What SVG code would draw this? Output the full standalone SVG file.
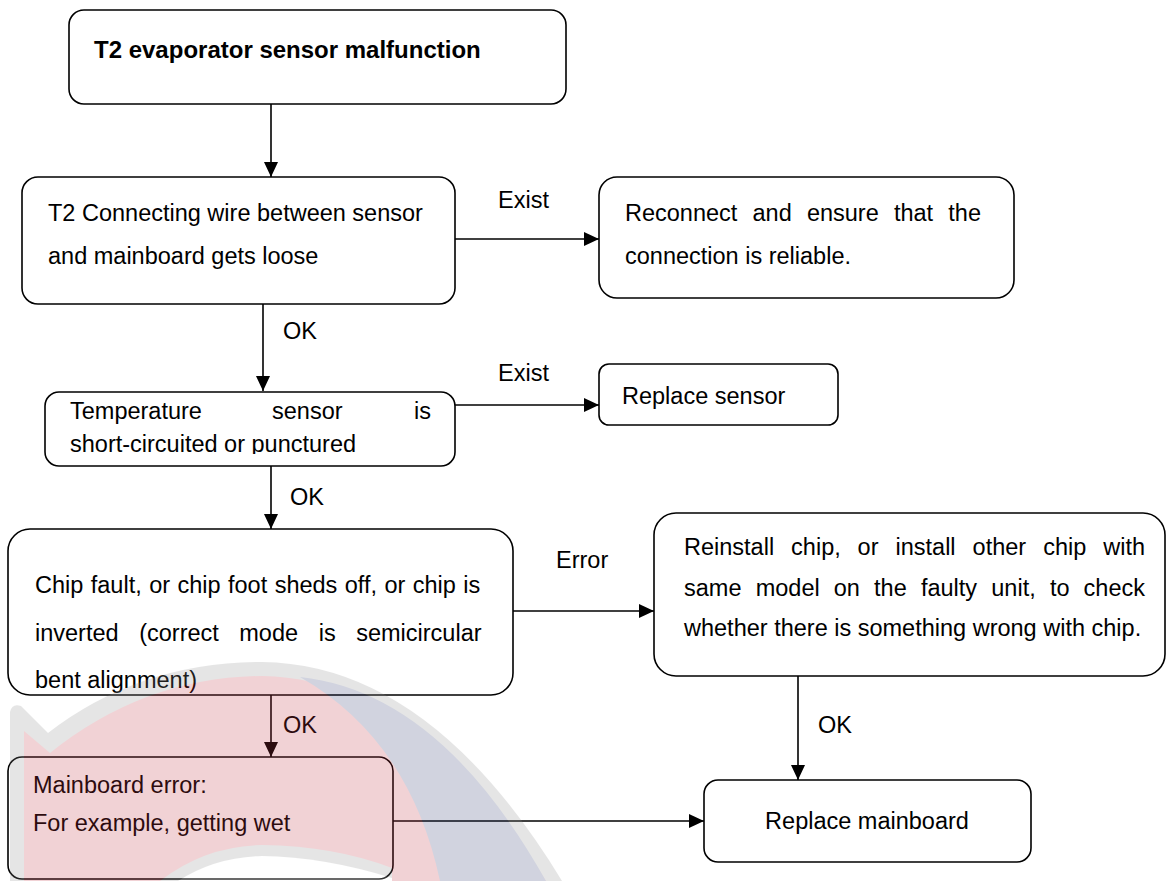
<svg xmlns="http://www.w3.org/2000/svg" width="1167" height="881" viewBox="0 0 1167 881">
<style>
.box{fill:#fff;stroke:#000;stroke-width:1.6}
.t{font-family:"Liberation Sans",Arial,sans-serif;font-size:23.5px;fill:#000}
.tb{font-family:"Liberation Sans",Arial,sans-serif;font-size:24px;font-weight:bold;fill:#000}
.c{fill:none;stroke:#000;stroke-width:1.6;marker-end:url(#ah)}
</style>
<defs>
<marker id="ah" markerUnits="userSpaceOnUse" markerWidth="15" markerHeight="14" refX="15" refY="7" orient="auto">
<path d="M0,0 L15,7 L0,14 Z" fill="#000"/>
</marker>
<clipPath id="clip4"><rect x="45" y="392" width="410" height="62"/></clipPath>
</defs>
<rect width="1167" height="881" fill="#fff"/>

<g id="connectors">
<line class="c" x1="271" y1="104" x2="271" y2="177"/>
<line class="c" x1="455" y1="239" x2="599" y2="239"/>
<line class="c" x1="263" y1="304" x2="263" y2="391"/>
<line class="c" x1="455" y1="405" x2="599" y2="405"/>
<line class="c" x1="271" y1="466" x2="271" y2="529"/>
<line class="c" x1="513" y1="611" x2="654" y2="611"/>
<line class="c" x1="798" y1="676" x2="798" y2="780"/>
<line class="c" x1="271" y1="695" x2="271" y2="757"/>
<line class="c" x1="393" y1="821" x2="704" y2="821"/>
<text class="t" x="498" y="208">Exist</text>
<text class="t" x="283" y="339">OK</text>
<text class="t" x="498" y="381">Exist</text>
<text class="t" x="290" y="505">OK</text>
<text class="t" x="556" y="568">Error</text>
<text class="t" x="818" y="733">OK</text>
<text class="t" x="283" y="733">OK</text>
</g>

<g id="n1">
<rect class="box" x="69" y="10" width="497" height="94" rx="15"/>
<text class="tb" x="94" y="58">T2 evaporator sensor malfunction</text>
</g>

<g id="n2">
<rect class="box" x="22" y="177" width="433" height="127" rx="16"/>
<text class="t" x="48" y="221">T2 Connecting wire between sensor</text>
<text class="t" x="48" y="264">and mainboard gets loose</text>
</g>

<g id="n3">
<rect class="box" x="599" y="177" width="415" height="121" rx="18"/>
<text class="t" y="221"><tspan x="625">Reconnect</tspan><tspan x="752.5">and</tspan><tspan x="806.9">ensure</tspan><tspan x="893.9">that</tspan><tspan x="948.3">the</tspan></text>
<text class="t" x="625" y="264">connection is reliable.</text>
</g>

<g id="n4">
<rect class="box" x="45" y="392" width="410" height="74" rx="14"/>
<text class="t" y="419"><tspan x="70">Temperature</tspan><tspan x="272">sensor</tspan><tspan x="414">is</tspan></text>
<text class="t" x="70" y="452" clip-path="url(#clip4)">short-circuited or punctured</text>
</g>

<g id="n5">
<rect class="box" x="599" y="364" width="239" height="61" rx="10"/>
<text class="t" x="622" y="404">Replace sensor</text>
</g>

<g id="n6">
<rect class="box" x="8" y="529" width="505" height="166" rx="22"/>
<text class="t" x="35" y="593" word-spacing="0.9">Chip fault, or chip foot sheds off, or chip is</text>
<text class="t" y="641"><tspan x="35">inverted</tspan><tspan x="139.2">(correct</tspan><tspan x="239.3">mode</tspan><tspan x="318.7">is</tspan><tspan x="356.2">semicircular</tspan></text>
<text class="t" x="35" y="688">bent alignment)</text>
</g>

<g id="n7">
<rect class="box" x="654" y="513" width="511" height="163" rx="22"/>
<text class="t" y="555"><tspan x="684">Reinstall</tspan><tspan x="791.1">chip,</tspan><tspan x="857.6">or</tspan><tspan x="895.5">install</tspan><tspan x="972.6">other</tspan><tspan x="1043.2">chip</tspan><tspan x="1103.2">with</tspan></text>
<text class="t" y="596"><tspan x="684">same</tspan><tspan x="755.7">model</tspan><tspan x="833.8">on</tspan><tspan x="874.1">the</tspan><tspan x="920.9">faulty</tspan><tspan x="991.3">unit,</tspan><tspan x="1049.9">to</tspan><tspan x="1083.6">check</tspan></text>
<text class="t" x="684" y="636">whether there is something wrong with chip.</text>
</g>

<g id="n8">
<rect class="box" x="704" y="780" width="327" height="82" rx="14"/>
<text class="t" x="867" y="829" text-anchor="middle">Replace mainboard</text>
</g>

<g id="n9">
<rect class="box" x="8" y="757" width="385" height="122" rx="14"/>
<text class="t" x="33" y="793">Mainboard error:</text>
<text class="t" x="33" y="831">For example, getting wet</text>
</g>

<g id="watermark" opacity="0.22">
<path d="M10,881 L10,712 Q12,703 21,706 L48,733 Q140,662 262,662 Q430,664 562,881 Z" fill="#8d8d8d"/>
<path d="M24,881 L24,731 L50,753 Q145,677 262,676 Q418,678 546,881 Z" fill="#c43745"/>
<path d="M300,677 Q440,692 546,881 L440,881 Q410,740 300,677 Z" fill="#323c72"/>
<path d="M160,881 Q205,846 262,845 Q335,846 392,868 L392,881 Z" fill="#8d8d8d"/>
<path d="M178,881 Q215,857 262,856 Q325,857 392,878 L392,881 Z" fill="#fff"/>
</g>
</svg>
